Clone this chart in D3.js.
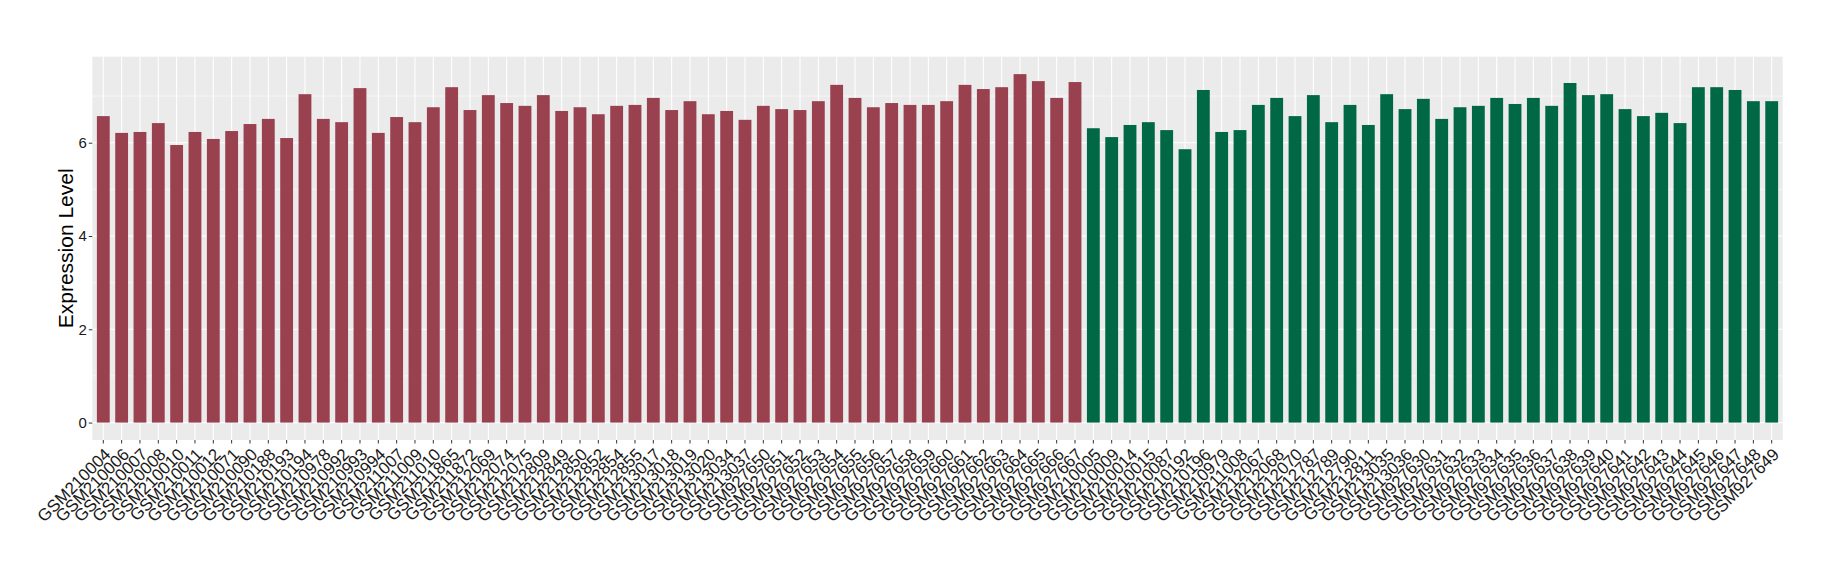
<!DOCTYPE html>
<html>
<head>
<meta charset="utf-8">
<script src="https://cdn.jsdelivr.net/npm/d3@7"></script>
<style>
html,body{margin:0;padding:0;background:#fff;}
svg{display:block;}
</style>
</head>
<body>
<svg id="chart" width="1840" height="580"></svg>
<script>
const samplesA = ["GSM210004","GSM210006","GSM210007","GSM210008","GSM210010","GSM210011","GSM210012","GSM210071","GSM210090","GSM210188","GSM210193","GSM210194","GSM210978","GSM210992","GSM210993","GSM210994","GSM211007","GSM211009","GSM211010","GSM211865","GSM211872","GSM212069","GSM212074","GSM212075","GSM212809","GSM212849","GSM212850","GSM212852","GSM212854","GSM212855","GSM213017","GSM213018","GSM213019","GSM213020","GSM213034","GSM213037","GSM927650","GSM927651","GSM927652","GSM927653","GSM927654","GSM927655","GSM927656","GSM927657","GSM927658","GSM927659","GSM927660","GSM927661","GSM927662","GSM927663","GSM927664","GSM927665","GSM927666","GSM927667"];
const valuesA = [6.57,6.21,6.23,6.42,5.95,6.23,6.08,6.25,6.40,6.51,6.10,7.04,6.51,6.44,7.17,6.21,6.55,6.44,6.76,7.19,6.70,7.02,6.85,6.79,7.02,6.68,6.76,6.61,6.79,6.81,6.96,6.70,6.89,6.61,6.68,6.49,6.79,6.72,6.70,6.89,7.24,6.96,6.76,6.85,6.81,6.81,6.89,7.24,7.15,7.19,7.47,7.32,6.96,7.30];
const samplesB = ["GSM210005","GSM210009","GSM210014","GSM210015","GSM210087","GSM210192","GSM210196","GSM210979","GSM211008","GSM212067","GSM212068","GSM212070","GSM212787","GSM212789","GSM212790","GSM212811","GSM213035","GSM213036","GSM927630","GSM927631","GSM927632","GSM927633","GSM927634","GSM927635","GSM927636","GSM927637","GSM927638","GSM927639","GSM927640","GSM927641","GSM927642","GSM927643","GSM927644","GSM927645","GSM927646","GSM927647","GSM927648","GSM927649"];
const valuesB = [6.31,6.12,6.38,6.44,6.27,5.86,7.13,6.23,6.27,6.81,6.96,6.57,7.02,6.44,6.81,6.38,7.04,6.72,6.94,6.51,6.76,6.79,6.96,6.83,6.96,6.79,7.28,7.02,7.04,6.72,6.57,6.64,6.42,7.19,7.19,7.13,6.89,6.89];
const yTicks = [0,2,4,6];
const yMinor = [1,3,5,7];
const groupColors = ["#9a4150","#006845"];
const yTitle = "Expression Level";

const data = samplesA.map((s,i)=>({name:s,value:valuesA[i],g:0}))
  .concat(samplesB.map((s,i)=>({name:s,value:valuesB[i],g:1})));

const L = 92.3, R = 1782.7, T = 56.7, B = 440;
const svg = d3.select("#chart");

const x = d3.scaleBand().domain(data.map(d=>d.name)).range([L,R]).paddingInner(0).paddingOuter(0.1);
const vmax = d3.max(data,d=>d.value);
const y = d3.scaleLinear().domain([-0.05*vmax, 1.05*vmax]).range([B,T]);

svg.append("rect").attr("x",L).attr("y",T).attr("width",R-L).attr("height",B-T).attr("fill","#ebebeb");

const grid = svg.append("g");
grid.selectAll("line.minor").data(yMinor).enter().append("line")
  .attr("x1",L).attr("x2",R).attr("y1",d=>y(d)).attr("y2",d=>y(d))
  .attr("stroke","#fff").attr("stroke-width",0.55);
grid.selectAll("line.major").data(yTicks).enter().append("line")
  .attr("x1",L).attr("x2",R).attr("y1",d=>y(d)).attr("y2",d=>y(d))
  .attr("stroke","#fff").attr("stroke-width",1.1);
grid.selectAll("line.vx").data(data).enter().append("line")
  .attr("x1",d=>x(d.name)+x.bandwidth()/2).attr("x2",d=>x(d.name)+x.bandwidth()/2)
  .attr("y1",T).attr("y2",B).attr("stroke","#fff").attr("stroke-width",1.1);

svg.append("g").selectAll("rect").data(data).enter().append("rect")
  .attr("x",d=>x(d.name)+x.bandwidth()*0.15)
  .attr("width",x.bandwidth()*0.7)
  .attr("y",d=>y(d.value))
  .attr("height",d=>y(0)-y(d.value))
  .attr("fill",d=>groupColors[d.g]);

// y axis
const yAxis = d3.axisLeft(y).tickValues(yTicks).tickSize(3.5).tickPadding(2);
const gy = svg.append("g").attr("transform",`translate(${L},0)`).call(yAxis);
gy.select(".domain").remove();
gy.selectAll(".tick line").attr("stroke","#333");
gy.selectAll(".tick text").attr("fill","#1a1a1a").style("font-family","Liberation Sans, Arial, sans-serif").style("font-size","15px");

// x axis
const xAxis = d3.axisBottom(x).tickSize(3.5).tickPadding(0);
const gx = svg.append("g").attr("transform",`translate(0,${B})`).call(xAxis);
gx.select(".domain").remove();
gx.selectAll(".tick line").attr("stroke","#333");
gx.selectAll(".tick text")
  .attr("fill","#1a1a1a")
  .style("font-family","Liberation Sans, Arial, sans-serif")
  .style("font-size","17px")
  .attr("text-anchor","end")
  .attr("dy",null)
  .attr("y",null)
  .attr("transform","translate(0,7) rotate(-45)")
  .attr("dominant-baseline","hanging");

svg.append("text")
  .attr("transform",`translate(65,${(T+B)/2}) rotate(-90)`)
  .attr("text-anchor","middle")
  .attr("dominant-baseline","central")
  .style("font-family","Liberation Sans, Arial, sans-serif")
  .style("font-size","21px")
  .attr("fill","#000")
  .text(yTitle);
</script>
</body>
</html>
